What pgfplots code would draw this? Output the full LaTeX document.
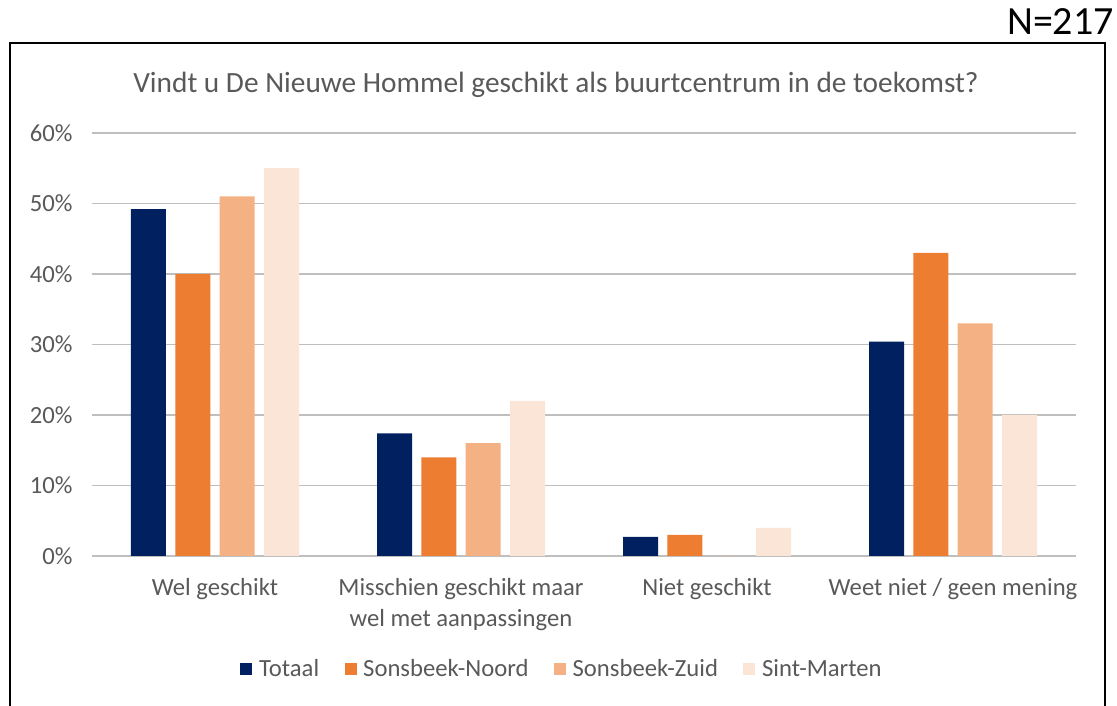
\documentclass[border=0pt]{standalone}
\usepackage{fontspec}
\setmainfont{Carlito}
\usepackage{pgfplots}
\pgfplotsset{compat=1.18}

\definecolor{navy}{HTML}{002060}
\definecolor{oranje}{HTML}{ED7D31}
\definecolor{zalm}{HTML}{F4B183}
\definecolor{perzik}{HTML}{FBE5D6}
\definecolor{tekst}{HTML}{595959}
\definecolor{grid}{HTML}{D9D9D9}

\begin{document}
\begin{tikzpicture}
  % canvas is 1117 x 706 px at 0.75pt per px, y measured from the bottom
  \path[use as bounding box] (0pt,0pt) rectangle (837.75pt,529.5pt);
  \draw[line width=1.5pt,black] (7.5pt,-8pt) -- (7.5pt,497.25pt) -- (828.75pt,497.25pt) -- (828.75pt,-8pt);
  \node[anchor=east,inner sep=0pt,font=\fontsize{30}{33}\selectfont] at (835.5pt,513pt) {N=217};
  \node[text=tekst,inner sep=0pt,font=\fontsize{22}{26}\selectfont] at (417pt,465.75pt) {Vindt u De Nieuwe Hommel geschikt als buurtcentrum in de toekomst?};

  \begin{axis}[
    at={(69pt,112.5pt)}, anchor=south west,
    width=738pt, height=317.25pt, scale only axis,
    ybar=7pt, bar width=26.25pt,
    ymin=0, ymax=60, xmin=-0.5, xmax=3.5,
    ytick={0,10,...,60},
    yticklabel={\pgfmathprintnumber{\tick}\%},
    /pgf/number format/assume math mode=true,
    xtick=data,
    xticklabels={Wel geschikt, {Misschien geschikt maar\\wel met aanpassingen}, Niet geschikt, Weet niet / geen mening},
    axis line style={draw=none},
    major tick length=0pt,
    xmajorgrids=false,
    ymajorgrids, grid style={grid, line width=1pt},
    every tick label/.append style={text=tekst, font=\fontsize{18.5}{22}\selectfont},
    xticklabel style={align=center, yshift=-13pt, font=\fontsize{18.5}{23.5}\selectfont},
    yticklabel style={xshift=-11pt},
    legend style={at={(0.478,-0.267)}, anchor=center, draw=none, fill=none,
      legend columns=4, font=\fontsize{18.5}{22}\selectfont, text=tekst,
      /tikz/every odd column/.append style={column sep=3pt},
      /tikz/every even column/.append style={column sep=17pt}},
    legend image code/.code={\fill[#1] (0pt,-4.5pt) rectangle (9pt,4.5pt);},
    ]
    \addplot[fill=navy, draw=none] coordinates {(0,49.2) (1,17.4) (2,2.7) (3,30.4)};
    \addplot[fill=oranje, draw=none] coordinates {(0,40) (1,14) (2,3) (3,43)};
    \addplot[fill=zalm, draw=none] coordinates {(0,51) (1,16) (2,0) (3,33)};
    \addplot[fill=perzik, draw=none] coordinates {(0,55) (1,22) (2,4) (3,20)};
    \legend{Totaal, Sonsbeek-Noord, Sonsbeek-Zuid, Sint-Marten}
  \end{axis}
\end{tikzpicture}
\end{document}
